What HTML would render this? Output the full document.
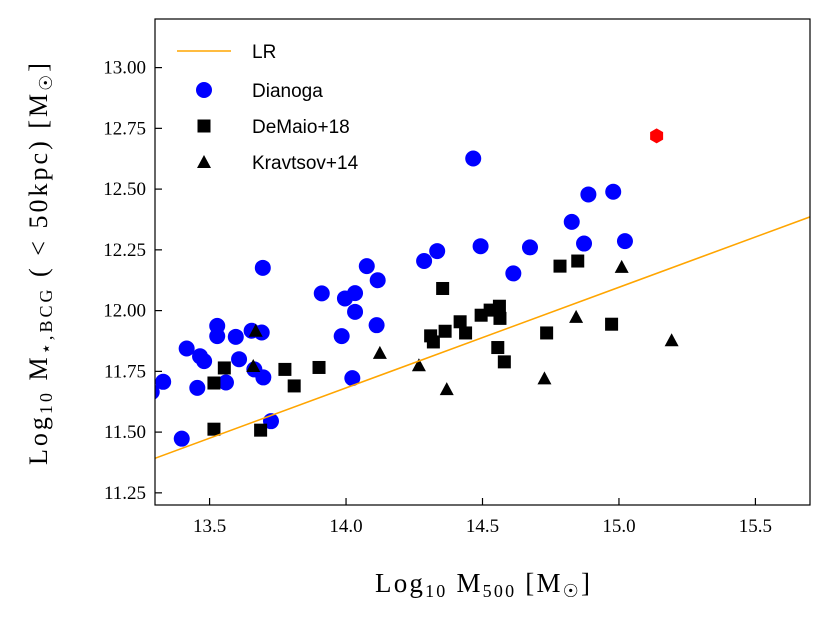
<!DOCTYPE html>
<html><head><meta charset="utf-8"><style>
body{margin:0;background:#fff;}
svg text{font-family:"Liberation Serif",serif;fill:#000;}
.lg{font-family:"Liberation Sans",sans-serif;font-size:19px;}
</style></head><body>
<svg id="chart" width="830" height="623" xmlns="http://www.w3.org/2000/svg">
<rect width="830" height="623" fill="#fff"/>
<g id="marks"></g>
<g id="axes"></g>
<rect x="155" y="19" width="655" height="486" fill="none" stroke="#000" stroke-width="1.2"/>
<g>
<line x1="177" y1="51" x2="231" y2="51" stroke="#ffa500" stroke-width="1.6"/>
<text class="lg" x="252" y="58">LR</text>
<circle cx="204" cy="90" r="8" fill="#0000ff"/>
<text class="lg" x="252" y="97">Dianoga</text>
<rect x="197.5" y="119.5" width="13" height="13" fill="#000"/>
<text class="lg" x="252" y="133">DeMaio+18</text>
<polygon points="204,155 211,168 197,168" fill="#000"/>
<text class="lg" x="252" y="169">Kravtsov+14</text>
</g>
<text x="375" y="592" font-size="27" textLength="215" lengthAdjust="spacing">Log<tspan font-size="18" dy="5">10</tspan><tspan dy="-5"> M</tspan><tspan font-size="18" dy="5">500</tspan><tspan dy="-5"> [M</tspan><tspan font-size="18" dy="5">☉</tspan><tspan dy="-5">]</tspan></text>
<text transform="translate(47,465) rotate(-90)" font-size="26" textLength="402" lengthAdjust="spacing">Log<tspan font-size="18" dy="5">10</tspan><tspan dy="-5"> M</tspan><tspan font-size="18" dy="5">⋆,BCG</tspan><tspan dy="-5"> ( &lt;  50kpc) [M</tspan><tspan font-size="18" dy="5">☉</tspan><tspan dy="-5">]</tspan></text>
</svg>
<script>
const xTicks=[13.5,14.0,14.5,15.0,15.5];
const xTickLabels=["13.5","14.0","14.5","15.0","15.5"];
const yTicks=[11.25,11.5,11.75,12.0,12.25,12.5,12.75,13.0];
const yTickLabels=["11.25","11.50","11.75","12.00","12.25","12.50","12.75","13.00"];
const dianogaX=[13.695,13.911,13.996,14.033,14.033,13.528,13.528,13.596,13.654,13.691,13.416,13.465,13.480,13.608,13.664,13.697,13.560,13.330,13.455,13.984,14.023,13.725,13.398,13.288,14.466,14.888,14.979,14.827,14.872,15.022,14.493,14.674,14.334,14.286,14.613,14.076,14.116,14.112];
const dianogaY=[12.176,12.071,12.050,12.072,11.995,11.937,11.895,11.892,11.917,11.910,11.844,11.812,11.792,11.800,11.758,11.725,11.704,11.707,11.682,11.895,11.722,11.545,11.473,11.665,12.626,12.478,12.489,12.365,12.276,12.286,12.265,12.260,12.245,12.204,12.153,12.183,12.125,11.940];
const demaioX=[13.554,13.516,13.776,13.810,13.901,13.516,13.687,14.354,14.784,14.849,14.973,14.735,14.562,14.564,14.528,14.495,14.418,14.438,14.363,14.310,14.320,14.556,14.580];
const demaioY=[11.764,11.702,11.758,11.690,11.766,11.512,11.508,12.091,12.183,12.204,11.944,11.908,12.018,11.968,12.002,11.981,11.954,11.908,11.915,11.896,11.871,11.848,11.789];
const kravX=[13.669,13.660,15.010,14.843,15.193,14.727,14.369,14.267,14.124];
const kravY=[11.917,11.772,12.180,11.974,11.878,11.721,11.677,11.775,11.826];
const redX=[15.138];
const redY=[12.719];
const lrSlope=0.414, lrIntercept=5.886;
const X0=13.3,X1=15.7,Y0=11.2,Y1=13.2,L=155,R=810,T=19,B=505;
const sx=v=>L+(v-X0)/(X1-X0)*(R-L);
const sy=v=>B-(v-Y0)/(Y1-Y0)*(B-T);
const NS="http://www.w3.org/2000/svg";
const marks=document.getElementById('marks'),axes=document.getElementById('axes');
function mk(tag,attrs,parent){const e=document.createElementNS(NS,tag);for(const k in attrs)e.setAttribute(k,attrs[k]);parent.appendChild(e);return e;}
xTicks.forEach((t,i)=>{
 const l=mk('line',{x1:sx(t),x2:sx(t),y1:B,y2:B-7,stroke:'#000','stroke-width':1.2},axes);
 
 
 const tx=mk('text',{x:sx(t),y:B+27,'font-size':19,'text-anchor':'middle'},axes);
 tx.textContent=xTickLabels[i];
 
 
});
yTicks.forEach((t,i)=>{
 const l=mk('line',{x1:L,x2:L+7,y1:sy(t),y2:sy(t),stroke:'#000','stroke-width':1.2},axes);
 
 
 const tx=mk('text',{x:L-9,y:sy(t)+6,'font-size':19,'text-anchor':'end'},axes);
 tx.textContent=yTickLabels[i];
 
 
});
const clip=mk('clipPath',{id:'pc'},marks);mk('rect',{x:L,y:T,width:R-L,height:B-T},clip);
const g=mk('g',{'clip-path':'url(#pc)'},marks);
dianogaX.forEach((x,i)=>{const c=mk('circle',{cx:sx(x),cy:sy(dianogaY[i]),r:8,fill:'#0000ff'},g);
 
 });
demaioX.forEach((x,i)=>{const c=mk('rect',{x:sx(x)-6.5,y:sy(demaioY[i])-6.5,width:13,height:13,fill:'#000'},g);
 
 });
kravX.forEach((x,i)=>{const cx=sx(x),cy=sy(kravY[i]);const c=mk('polygon',{points:`${cx},${cy-7} ${cx+7},${cy+6} ${cx-7},${cy+6}`,fill:'#000'},g);
 
 });
const lr=mk('line',{x1:sx(X0),y1:sy(lrIntercept+lrSlope*X0),x2:sx(X1),y2:sy(lrIntercept+lrSlope*X1),stroke:'#ffa500','stroke-width':1.6},g);


redX.forEach((x,i)=>{const cx=sx(x),cy=sy(redY[i]);let p=[];for(let k=0;k<6;k++){const a=Math.PI/6+k*Math.PI/3;p.push((cx+7.5*Math.cos(a))+','+(cy+7.5*Math.sin(a)));}
 const h=mk('polygon',{points:p.join(' '),fill:'#ff0000'},g);
 
 });
</script>
</body></html>
